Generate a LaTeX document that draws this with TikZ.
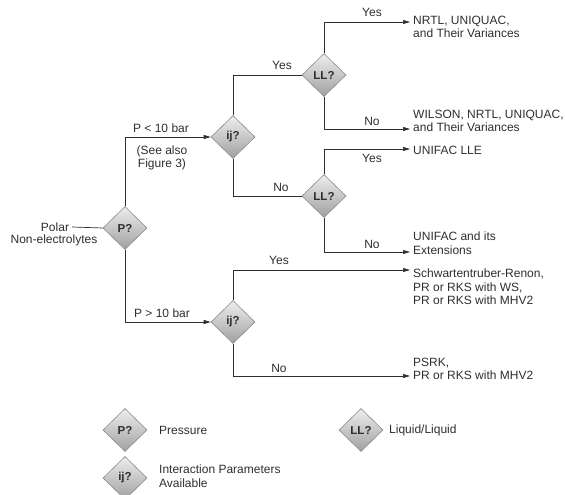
\documentclass[tikz,border=0pt]{standalone}
\usepackage{fontspec}
\setmainfont{Liberation Sans}
\usetikzlibrary{shapes.geometric,arrows.meta}
\definecolor{ink}{HTML}{2E2E2E}
\definecolor{dtop}{HTML}{EEEEEE}
\definecolor{dbot}{HTML}{A0A0A0}
\definecolor{dedge}{HTML}{8C8C8C}
\begin{document}
\begin{tikzpicture}[x=1pt,y=-1pt,
  dec/.style={diamond, aspect=1, draw=dedge, line width=0.6pt, top color=dtop, bottom color=dbot,
    minimum width=44pt, minimum height=43pt, inner sep=0pt,
    font=\fontsize{11.5}{13}\selectfont\bfseries, text=ink},
  lbl/.style={font=\fontsize{12}{13.5}\selectfont, text=ink, inner sep=0pt, align=center},
  res/.style={font=\fontsize{12}{13.5}\selectfont, text=ink, inner sep=0pt, align=left, anchor=west},
  conn/.style={draw=ink, line width=0.7pt},
  arr/.style={conn, -{Triangle[length=7pt,width=4pt]}}]
\useasboundingbox (0,0) rectangle (565,495);

% decision diamonds
\node[dec] (P) at (125,228) {P?};
\node[dec] (ij1) at (233,137) {ij?};
\node[dec] (LL1) at (324,75) {LL?};
\node[dec] (LL2) at (324,196) {LL?};
\node[dec] (ij2) at (233,322) {ij?};

% start text
\node[lbl] (polar) at (55,227) {Polar};
\node[lbl] (nonel) at (54,240) {Non-electrolytes};

% arrow end points and results
\coordinate (e1) at (410,22);
\coordinate (e2) at (410,129);
\coordinate (e3) at (410,149);
\coordinate (e4) at (410,252);
\coordinate (e5) at (410,270);
\coordinate (e6) at (410,376);
\node[res] (r1) at (413,27) {NRTL, UNIQUAC,\\and Their Variances};
\node[res] (r2) at (413,121) {WILSON, NRTL, UNIQUAC,\\and Their Variances};
\node[res] (r3) at (413,150) {UNIFAC LLE};
\node[res] (r4) at (413,243) {UNIFAC and its\\Extensions};
\node[res] (r5) at (413,287) {Schwartentruber-Renon,\\PR or RKS with WS,\\PR or RKS with MHV2};
\node[res] (r6) at (413,369) {PSRK,\\PR or RKS with MHV2};

% connectors
\draw[conn] ([xshift=3pt]polar.east) -- (P.west);
\draw[arr] (P.north) |- (ij1.west);
\draw[arr] (P.south) |- (ij2.west);
\draw[conn] (ij1.north) |- (LL1.west);
\draw[conn] (ij1.south) |- (LL2.west);
\draw[arr] (LL1.north) |- (e1);
\draw[arr] (LL1.south) |- (e2);
\draw[arr] (LL2.north) |- (e3);
\draw[arr] (LL2.south) |- (e4);
\draw[arr] (ij2.north) |- (e5);
\draw[arr] (ij2.south) |- (e6);

% branch labels
\node[lbl] (y1) at (282,65) {Yes};
\node[lbl] (n1) at (281,187) {No};
\node[lbl] (y2) at (372,12) {Yes};
\node[lbl] (n2) at (372,121) {No};
\node[lbl] (y3) at (372,158) {Yes};
\node[lbl] (n3) at (372,244) {No};
\node[lbl] (y4) at (279,260) {Yes};
\node[lbl] (n4) at (279,368) {No};
\node[lbl] (pl) at (161,128) {P < 10 bar};
\node[lbl] (see) at (162,158) {(See also\\Figure 3)};
\node[lbl] (pg) at (162,313) {P > 10 bar};

% legend
\node[dec] (kP) at (125,430) {P?};
\node[res] (tP) at (159,430) {Pressure};
\node[dec] (kij) at (125,478) {ij?};
\node[res] (tij) at (159,476) {Interaction Parameters\\Available};
\node[dec] (kLL) at (361,430) {LL?};
\node[res] (tLL) at (389,430) {Liquid/Liquid};
\end{tikzpicture}
\end{document}
